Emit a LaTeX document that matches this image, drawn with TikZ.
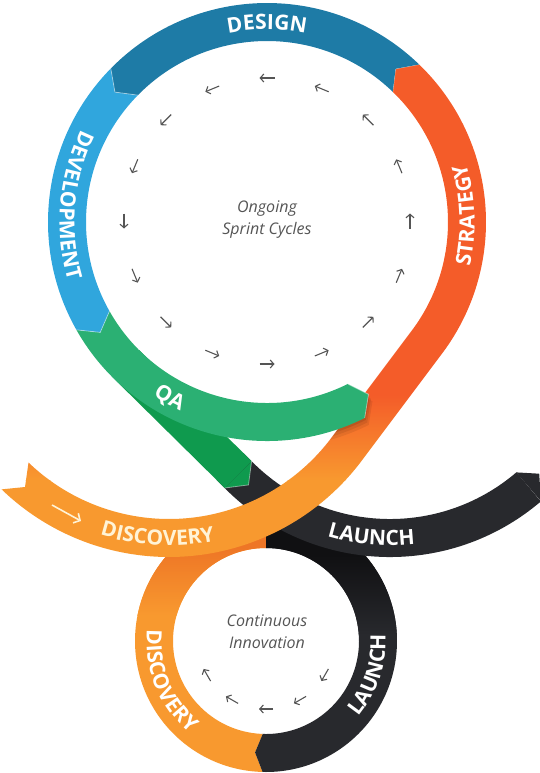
\documentclass[tikz,border=0pt]{standalone}
\usepackage{fontspec}
\setmainfont{Open Sans}
\usetikzlibrary{calc,decorations.text,arrows.meta}
\definecolor{cDesign}{HTML}{1E7BA6}
\definecolor{cDev}{HTML}{30A6DD}
\definecolor{cQA}{HTML}{2BB073}
\definecolor{cGreenDark}{HTML}{0F9A4E}
\definecolor{cRed}{HTML}{F45C29}
\definecolor{cOrange}{HTML}{F8992F}
\definecolor{cOrangeDeep}{HTML}{EE7626}
\definecolor{cBlack}{HTML}{28292D}
\definecolor{cBlackDeep}{HTML}{101012}
\definecolor{cGray}{HTML}{555555}
\definecolor{cCream}{HTML}{FFF3D6}
\newcommand\lblfont{\fontsize{21}{25}\selectfont\bfseries}
\newcommand\orangeoutline{($(O1)+(46:181)$) -- ($(O1)+(50:200)$) -- ($(O1)+(46:219)$)
  arc[start angle=46,end angle=-36.4,radius=219]
  -- ($(O2)+(-36.4:241)$) arc[start angle=-36.4,end angle=-134,radius=241]
  -- (25,-487) -- ($(O2)+(-133.8:203)$)
  arc[start angle=-133.8,end angle=-36.4,radius=203]
  -- ($(O1)+(-36.4:181)$) arc[start angle=-36.4,end angle=46,radius=181] -- cycle}
\newcommand\qatail[1]{($(O1)+(280:219)+#1$) arc[start angle=280,end angle=296.5,radius=219]
  -- ($(O1)+(300.5:200)+#1$) -- ($(O1)+(296.5:181)+#1$)
  arc[start angle=296.5,end angle=280,radius=181] -- cycle}
\begin{document}
\begin{tikzpicture}[x=1pt,y=1pt,
  garr/.style={draw=cGray,line width=1.1pt,-{Straight Barb[length=3.6pt,width=8pt]}},
  ctext/.style={text=cGray,font=\fontsize{16}{19}\selectfont\itshape,inner sep=0pt},
  band/.style={line width=38pt},
  lbl/.style={decorate,decoration={text along path,text align=center,text color=white,text={|\lblfont|#1}}},
  lblc/.style={decorate,decoration={text along path,text align=center,text color=cCream,text={|\lblfont|#1}}},
  hedge/.style={draw=white,draw opacity=0.45,line width=0.8pt}
]
\useasboundingbox (0,0) rectangle (540,-773);
\coordinate (O1) at (267,-222);
\coordinate (O2) at (169,-316);
\coordinate (O3) at (390,-324.5);
\coordinate (C1) at (267,-221);
\coordinate (L) at (266,-641);

% lower ring: orange part
\begin{scope}
\clip ($(L)+(90:131)$) arc[start angle=90,end angle=268.5,radius=131] -- ($(L)+(264.4:112)$) -- ($(L)+(268:93)$) arc[start angle=268,end angle=90,radius=93] -- cycle;
\fill[cOrange] (100,-500) rectangle (300,-773);
\fill[cOrangeDeep] (100,-500) rectangle (300,-548);
\shade[top color=cOrangeDeep,bottom color=cOrange] (100,-548) rectangle (300,-615);
\end{scope}
% lower ring: black part
\begin{scope}
\clip ($(L)+(268.5:131)$) arc[start angle=268.5,end angle=450,radius=131] -- ($(L)+(450:93)$) arc[start angle=450,end angle=268,radius=93] -- ($(L)+(264.4:112)$) -- cycle;
\fill[cBlack] (240,-500) rectangle (420,-773);
\fill[cBlackDeep] (240,-500) rectangle (420,-555);
\shade[top color=cBlackDeep,bottom color=cBlack] (240,-555) rectangle (420,-635);
\end{scope}

% black ribbon (LAUNCH)
\draw[cBlack,band] (230,-466.4) -- (239,-475.5) arc[start angle=225,end angle=310.5,radius=213.5];
\fill[cBlack] ($(O3)+(310.5:194.5)$) -- ($(O3)+(315:211)$) -- ($(O3)+(310.5:232.5)$) -- cycle;

% dark green diagonal
\draw[cGreenDark,band] ($(O1)+(225:200)$) -- (238.2,-474.6);
\fill[cGreenDark] (251.6,-461.2) -- (248.5,-484.9) -- (224.8,-488) -- cycle;
\draw[hedge] (251.6,-461.2) -- (248.5,-484.9) -- (224.8,-488);

% orange ribbon (STRATEGY -> DISCOVERY)
\begin{scope}
\clip \orangeoutline;
\fill[cRed] (0,0) rectangle (540,-395);
\shade[top color=cRed,bottom color=cOrange] (0,-395) rectangle (540,-480);
\fill[cOrange] (0,-480) rectangle (540,-773);
% soft shadow of the QA tip
\fill[black,opacity=0.07] \qatail{(4,-7)};
\fill[black,opacity=0.08] \qatail{(2.5,-4.5)};
\fill[black,opacity=0.10] \qatail{(1,-2)};
\end{scope}
\draw[hedge] ($(O1)+(46:181)$) -- ($(O1)+(50:200)$) -- ($(O1)+(46:219)$);

% QA
\fill[cQA] ($(O1)+(209.5:219)$) arc[start angle=209.5,end angle=296.5,radius=219]
  -- ($(O1)+(300.5:200)$) -- ($(O1)+(296.5:181)$)
  arc[start angle=296.5,end angle=209.5,radius=181] -- ($(O1)+(213.5:200)$) -- cycle;
\draw[hedge] ($(O1)+(296.5:219)$) -- ($(O1)+(300.5:200)$) -- ($(O1)+(296.5:181)$);
% DEVELOPMENT
\fill[cDev] ($(O1)+(135.5:219)$) arc[start angle=135.5,end angle=209.5,radius=219]
  -- ($(O1)+(213.5:200)$) -- ($(O1)+(209.5:181)$)
  arc[start angle=209.5,end angle=135.5,radius=181] -- ($(O1)+(139.5:200)$) -- cycle;
\draw[hedge] ($(O1)+(209.5:219)$) -- ($(O1)+(213.5:200)$) -- ($(O1)+(209.5:181)$);
% DESIGN
\fill[cDesign] ($(O1)+(46:219)$) arc[start angle=46,end angle=135.5,radius=219]
  -- ($(O1)+(139.5:200)$) -- ($(O1)+(135.5:181)$)
  arc[start angle=135.5,end angle=46,radius=181] -- ($(O1)+(50:200)$) -- cycle;
\draw[hedge] ($(O1)+(135.5:219)$) -- ($(O1)+(139.5:200)$) -- ($(O1)+(135.5:181)$);

% labels
\path[lbl={DESIGN}] ($(O1)+(135:192.5)$) arc[start angle=135,end angle=45,radius=192.5];
\path[lbl={STRATEGY}] ($(O1)+(-43:207.5)$) arc[start angle=-43,end angle=47,radius=207.5];
\path[lbl={DEVELOPMENT}] ($(O1)+(130:207.5)$) arc[start angle=130,end angle=220,radius=207.5];
\path[lbl={QA}] ($(O1)+(220:207.5)$) arc[start angle=220,end angle=262,radius=207.5];
\path[lblc={DISCOVERY}] ($(O2)+(-134:229.5)$) arc[start angle=-134,end angle=-52,radius=229.5];
\path[lbl={LAUNCH}] ($(O3)+(-135:221)$) arc[start angle=-135,end angle=-55,radius=221];
\path[lbl={DISCOVERY}] ($(L)+(157:119.5)$) arc[start angle=157,end angle=248,radius=119.5];
\path[lbl={LAUNCH}] ($(L)+(-63:119.5)$) arc[start angle=-63,end angle=27,radius=119.5];

% white arrow on discovery ribbon
\draw[draw=cCream,line width=1.6pt,-{Straight Barb[length=5pt,width=11pt]}] (52,-505) -- (81,-521);

% inner arrows, big circle (counterclockwise)
\foreach \a in {0,22.5,...,337.5}
  \draw[garr] ($(C1)+(\a:143)+(\a-90:7.5)$) -- ++(\a+90:15);
% inner arrows, lower circle (clockwise)
\foreach \a in {-30,-60,-90,-120,-150}
  \draw[garr] ($(L)+(\a:68)+(\a+90:7)$) -- ++(\a-90:14);

% centre texts
\node[ctext] (t1) at (267,-209) {Ongoing};
\node[ctext] (t2) at (267,-230) {Sprint Cycles};
\node[ctext] (t3) at (267,-621) {Continuous};
\node[ctext] (t4) at (267,-643) {Innovation};
\end{tikzpicture}
\end{document}
